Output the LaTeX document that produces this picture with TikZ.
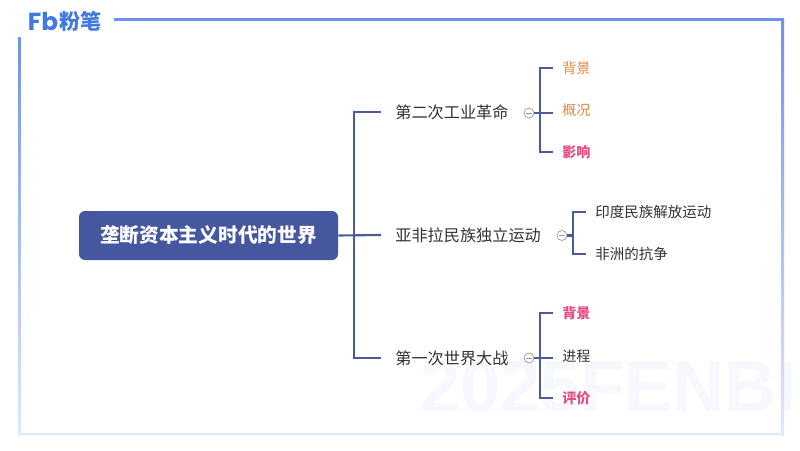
\documentclass[tikz,border=0pt]{standalone}
\usepackage{fontspec}
\usepackage{tikz}
\usetikzlibrary{positioning}
\setmainfont{Noto Sans CJK SC}
\newfontfamily\latinfont{Liberation Sans}
\newfontfamily\logofont{Poppins}
\definecolor{mnavy}{HTML}{44579F}
\definecolor{mline}{HTML}{4A5C9C}
\definecolor{mframe}{HTML}{6F92F0}
\definecolor{mpale}{HTML}{DFE8FC}
\definecolor{mlogo}{HTML}{4079E0}
\definecolor{mtext}{HTML}{333333}
\definecolor{morange}{HTML}{E8893F}
\definecolor{mpink}{HTML}{E84C80}
\definecolor{mmark}{HTML}{F7F8FD}
\tikzset{
  link/.style={mline, line width=1.2pt},
  rootbox/.style={fill=mnavy, rounded corners=0.12cm, minimum width=5.18cm, minimum height=0.98cm, inner sep=0pt, text=white, font=\fontsize{11.2}{13}\selectfont\bfseries},
  branch/.style={inner xsep=0.28cm, inner ysep=0.05cm, text=mtext, font=\fontsize{9.2}{11}\selectfont},
  leaf/.style={inner xsep=0.18cm, inner ysep=0.03cm, text=mtext, font=\fontsize{8}{10}\selectfont},
  hotleaf/.style={leaf, font=\fontsize{8}{10}\selectfont\bfseries},
  fold/.style={draw=gray!80, circle, minimum size=0.2cm, inner sep=0pt, line width=0.4pt}
}
\newcommand{\foldbar}[1]{\draw [gray!80, line width=0.4pt] ([xshift=-0.06cm]#1.center) -- ([xshift=0.06cm]#1.center);}
\begin{document}
\begin{tikzpicture}
  \useasboundingbox (0, 0) rectangle (16, 9);
  \fill [white] (0, 0) rectangle (16, 9);

  % watermark
  \node (mark) [anchor=west, inner sep=0pt, text=mmark, font=\fontsize{41}{41}\latinfont\bfseries] at (8.4, 1.26) {2025FENBI};

  % frame
  \fill [mframe] (2.28, 8.58) rectangle (15.68, 8.63);
  \shade [top color=mframe, bottom color=mpale] (0.36, 0.3) rectangle (0.41, 8.25);
  \shade [top color=mframe, bottom color=mpale] (15.63, 0.3) rectangle (15.68, 8.63);
  \fill [mpale] (0.36, 0.3) rectangle (15.68, 0.35);

  % logo
  \node (logo) [anchor=west, inner sep=0pt, text=mlogo, font=\fontsize{14}{16}\logofont\bfseries] at (0.55, 8.57) {Fb};
  \node (logotext) [right=0.01cm of logo, inner sep=0pt, text=mlogo, font=\fontsize{12}{14}\selectfont\bfseries] {粉笔};

  % root and branches
  \node (world) [rootbox] at (4.17, 4.29) {垄断资本主义时代的世界};
  \node (revolution) [branch, anchor=west] at (7.62, 6.76) {第二次工业革命};
  \node (asia) [branch, anchor=west] at (7.62, 4.3) {亚非拉民族独立运动};
  \node (war) [branch, anchor=west] at (7.62, 1.84) {第一次世界大战};

  \node (foldone) [fold] at (10.58, 6.74) {};
  \node (foldtwo) [fold] at (11.24, 4.29) {};
  \node (foldthree) [fold] at (10.58, 1.84) {};
  \foldbar{foldone}
  \foldbar{foldtwo}
  \foldbar{foldthree}

  % leaves
  \node (background) [leaf, anchor=west, text=morange] at (11.06, 7.64) {背景};
  \node (overview) [leaf, anchor=west, text=morange] at (11.06, 6.8) {概况};
  \node (impact) [hotleaf, anchor=west, text=mpink] at (11.06, 5.96) {影响};

  \node (india) [leaf, anchor=west, font=\fontsize{8.25}{10}\selectfont] at (11.72, 4.76) {印度民族解放运动};
  \node (africa) [leaf, anchor=west, font=\fontsize{8.25}{10}\selectfont] at (11.72, 3.92) {非洲的抗争};

  \node (causes) [hotleaf, anchor=west, text=mpink] at (11.06, 2.74) {背景};
  \node (course) [leaf, anchor=west] at (11.06, 1.88) {进程};
  \node (verdict) [hotleaf, anchor=west, text=mpink] at (11.06, 1.04) {评价};

  % connectors
  \coordinate (trunk) at (7.08, 4.3);
  \draw [link] (world.east) -- (asia.west);
  \draw [link] (revolution.west) -| (trunk) |- (war.west);

  \coordinate (forkone) at (10.8, 6.74);
  \draw [link] (foldone.east) -- (overview.west |- foldone.east);
  \draw [link] (background.west) -| (forkone) |- (impact.west);

  \coordinate (forktwo) at (11.46, 4.29);
  \draw [link] (foldtwo.east) -- (forktwo);
  \draw [link] (india.west) -| (forktwo) |- (africa.west);

  \coordinate (forkthree) at (10.8, 1.84);
  \draw [link] (foldthree.east) -- (course.west |- foldthree.east);
  \draw [link] (causes.west) -| (forkthree) |- (verdict.west);
\end{tikzpicture}
\end{document}
